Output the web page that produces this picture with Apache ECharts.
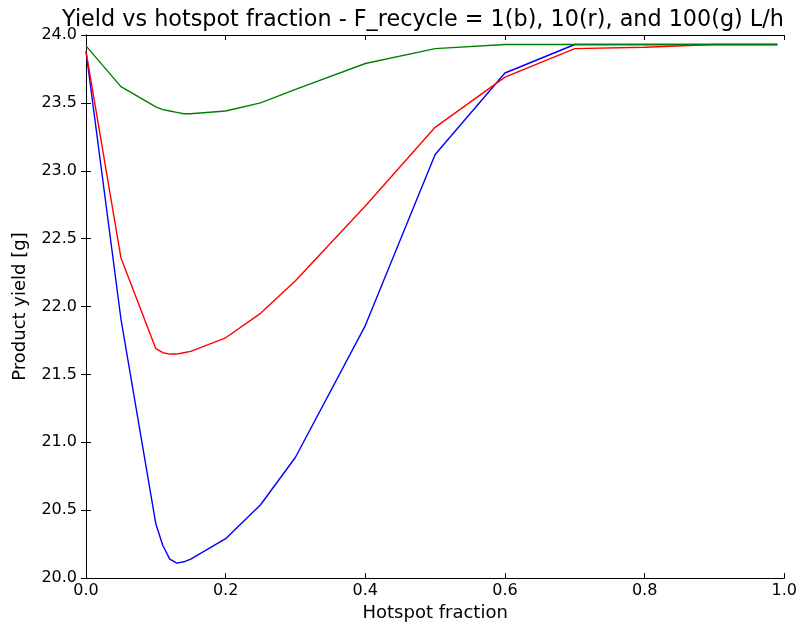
<!DOCTYPE html>
<html>
<head>
<meta charset="utf-8">
<script src="https://cdn.jsdelivr.net/npm/echarts@6/dist/echarts.min.js"></script>
<style>html,body{margin:0;padding:0;background:#fff;overflow:hidden}#c{width:800px;height:627px}</style>
</head>
<body>
<div id="c"></div>
<script>
const xValues = [0, 0.05, 0.1, 0.11, 0.12, 0.13, 0.14, 0.15, 0.2, 0.25, 0.3, 0.4, 0.5, 0.6, 0.7, 0.8, 0.9, 0.99];
const blueYield  = [23.88, 21.91, 20.40, 20.24, 20.14, 20.11, 20.12, 20.14, 20.29, 20.54, 20.89, 21.86, 23.12, 23.72, 23.93, 23.93, 23.93, 23.93];
const redYield   = [23.88, 22.36, 21.69, 21.66, 21.65, 21.65, 21.66, 21.67, 21.77, 21.95, 22.19, 22.74, 23.32, 23.69, 23.90, 23.91, 23.93, 23.93];
const greenYield = [23.92, 23.62, 23.47, 23.45, 23.44, 23.43, 23.42, 23.42, 23.44, 23.50, 23.60, 23.79, 23.90, 23.93, 23.93, 23.93, 23.93, 23.93];
const titleText = 'Yield vs hotspot fraction - F_recycle = 1(b), 10(r), and 100(g) L/h';

const pair = ys => xValues.map((x, i) => [x, ys[i]]);
const FONT = 'DejaVu Sans';
const chart = echarts.init(document.getElementById('c'));
const frameAxis = {
  axisLine: {show: true, lineStyle: {color: '#000', width: 1}},
  axisTick: {show: true, inside: true, length: 5, lineStyle: {color: '#000'}},
  splitLine: {show: false}
};
chart.setOption({
  animation: false,
  title: {text: titleText, left: 418, textAlign: 'center', top: 4,
    textStyle: {fontFamily: FONT, fontSize: 22.3, fontWeight: 'normal', color: '#000'}},
  grid: {left: 86, right: 13, top: 35, bottom: 47, containLabel: false},
  xAxis: [
    Object.assign({type: 'value', min: 0, max: 1, interval: 0.2, position: 'bottom',
      name: 'Hotspot fraction', nameLocation: 'middle', nameGap: 25,
      nameTextStyle: {fontFamily: FONT, fontSize: 18, color: '#000'},
      axisLabel: {fontFamily: FONT, fontSize: 16, color: '#000', margin: 5, formatter: v => v.toFixed(1)}}, frameAxis),
    Object.assign({type: 'value', min: 0, max: 1, interval: 0.2, position: 'top', axisLabel: {show: false}}, frameAxis)
  ],
  yAxis: [
    Object.assign({type: 'value', min: 20, max: 24, interval: 0.5, position: 'left',
      name: 'Product yield [g]', nameLocation: 'middle', nameGap: 57,
      nameTextStyle: {fontFamily: FONT, fontSize: 18, color: '#000'},
      axisLabel: {fontFamily: FONT, fontSize: 16, color: '#000', margin: 9, formatter: v => v.toFixed(1)}}, frameAxis),
    Object.assign({type: 'value', min: 20, max: 24, interval: 0.5, position: 'right', axisLabel: {show: false}}, frameAxis)
  ],
  series: [
    {type: 'line', data: pair(blueYield), showSymbol: false, lineStyle: {color: '#0000ff', width: 1.4}, itemStyle: {color: '#0000ff'}},
    {type: 'line', data: pair(redYield), showSymbol: false, lineStyle: {color: '#ff0000', width: 1.4}, itemStyle: {color: '#ff0000'}},
    {type: 'line', data: pair(greenYield), showSymbol: false, lineStyle: {color: '#008000', width: 1.4}, itemStyle: {color: '#008000'}}
  ]
});
</script>
</body>
</html>
